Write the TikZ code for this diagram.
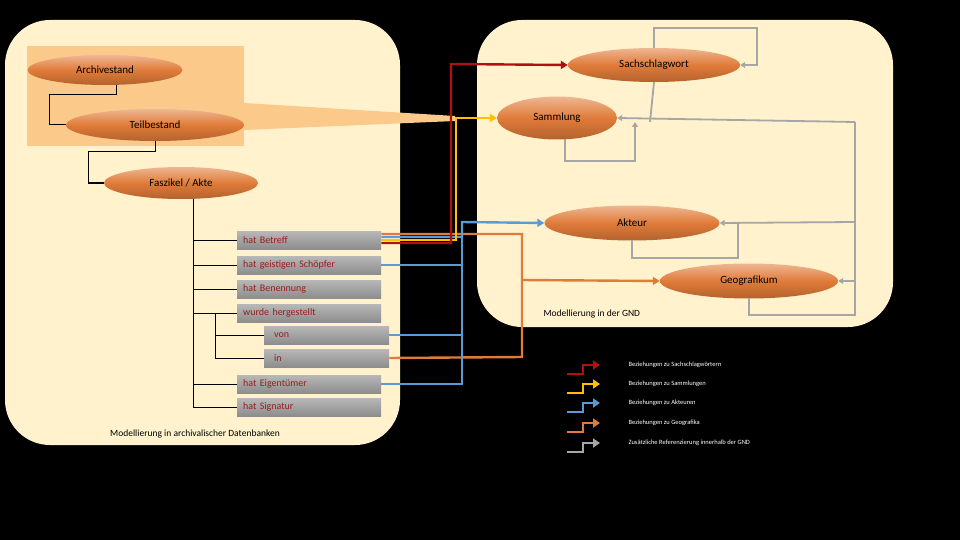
\documentclass[tikz,border=0pt]{standalone}
\usepackage{fontspec}
\setmainfont{Carlito}
\usetikzlibrary{shapes.geometric,arrows.meta}
\definecolor{panel}{HTML}{FFF2CC}
\definecolor{hl}{HTML}{FBC98A}
\definecolor{cred}{HTML}{B01010}
\definecolor{cyel}{HTML}{FFC000}
\definecolor{cblu}{HTML}{5B9BD5}
\definecolor{cora}{HTML}{E07B39}
\definecolor{cgry}{HTML}{A6A6A6}
\definecolor{btxt}{HTML}{9B1C1C}
\tikzset{
  ell/.style={ellipse,top color=#1!55!white,bottom color=#1!80!black,middle color=#1,draw=none,font=\fontsize{11}{12}\selectfont,inner sep=0},
  ell/.default={cora},
  box/.style={rectangle,top color=cgry!80!white,bottom color=cgry!85!black,minimum height=18,text width=#1,align=left,inner xsep=6,inner ysep=0,font=\fontsize{10}{11}\selectfont,text=btxt},
  tree/.style={black,line width=1},
  con/.style={line width=2.4},
  gcon/.style={cgry,line width=1.8},
  tip/.style={-{Triangle[length=7,width=8]}},
  gtip/.style={-{Triangle[length=5,width=6]}},
  leg/.style={font=\fontsize{6.5}{7}\selectfont,text=white,anchor=west}
}
\begin{document}
\begin{tikzpicture}[x=1pt,y=-1pt]
\fill[black] (0,0) rectangle (960,540);
\useasboundingbox (0,0) rectangle (960,540);
% panels
\fill[panel,rounded corners=45] (5,20) rectangle (400,445);
\fill[panel,rounded corners=45] (477,20) rectangle (893,327);
\fill[hl] (27,46) rectangle (244,146);
\fill[hl] (244,103) -- (455,116) -- (455,121) -- (244,130) -- cycle;
% left ellipses
\node[ell,minimum width=155,minimum height=30] (arch) at (105,70) {Archivestand};
\node[ell,minimum width=178,minimum height=32] (teil) at (155,125) {Teilbestand};
\node[ell,minimum width=154,minimum height=32] (fasz) at (181,183) {Faszikel / Akte};
% boxes
\node[box=132,minimum width=144,anchor=west] (b1) at (237,240) {hat Betreff};
\node[box=132,minimum width=144,anchor=west] (b2) at (237,265) {hat geistigen Schöpfer};
\node[box=132,minimum width=144,anchor=west] (b3) at (237,289) {hat Benennung};
\node[box=132,minimum width=144,anchor=west] (b4) at (237,313) {wurde hergestellt};
\node[box=105,minimum width=117,anchor=west,inner xsep=10] (b5) at (264,335) {von};
\node[box=105,minimum width=117,anchor=west,inner xsep=10] (b6) at (264,358) {in};
\node[box=132,minimum width=144,anchor=west] (b7) at (237,384) {hat Eigentümer};
\node[box=132,minimum width=144,anchor=west] (b8) at (237,407) {hat Signatur};
% tree lines
\draw[tree] (arch.south) ++(11,0) |- (49,95) |- (teil.west);
\draw[tree] (teil.south) |- (88,152) |- (fasz.west);
\draw[tree] (fasz.south) ++(12,0) -- (193,407) -- (b8.west);
\foreach \b in {b1,b2,b3,b4,b7} \draw[tree] (193,0 |- \b.west) -- (\b.west);
\draw[tree] (b4.south west) ++(-22,0) coordinate (t2) -- (t2 |- b6.west) -- (b6.west);
\draw[tree] (t2 |- b5.west) -- (b5.west);
\draw[tree] (t2) -- ++(0,-9);
% right ellipses
\node[ell,minimum width=172,minimum height=34] (sach) at (654,65) {Sachschlagwort};
\node[ell,minimum width=120,minimum height=43] (samm) at (557,118) {Sammlung};
\node[ell,minimum width=175,minimum height=35] (akt) at (632,223) {Akteur};
\node[ell,minimum width=178,minimum height=35] (geo) at (749,281) {Geografikum};
% gray references
\draw[gcon,gtip] (sach.north) |- (757,28) |- (sach.east);
\draw[gcon] (sach.south) -- (650,122);
\draw[gcon,gtip] (855,122) -- (samm.east);
\draw[gcon] (855,122) -- (855,298);
\draw[gcon,gtip] (565,139) |- (635,161) -- (635,122);
\draw[gcon,gtip] (855,222) -- (akt.east);
\draw[gcon] (632,240) |- (738,258) -- (738,222);
\draw[gcon,gtip] (855,281) -- (geo.east);
\draw[gcon] (749,298) |- (855,315) -- (855,298);
% coloured connectors
\draw[con,cora] ([yshift=6]b1.east) -| (522,357) -- (b6.east);
\draw[con,cora,tip] (522,280) -- (geo.west);
\draw[con,cblu,tip] ([yshift=3]b1.east) -| (462,222) -- (akt.west);
\draw[con,cblu] (b2.east) -- (462,0 |- b2.east);
\draw[con,cblu] (b5.east) -| (462,222);
\draw[con,cblu] (b7.east) -| (462,222);
\draw[con,cyel,tip] (b1.east) -| (456,118) -- (samm.west);
\draw[con,cred,tip] ([yshift=-3]b1.east) -| (451,64) -- (sach.west);
% labels
\node[font=\fontsize{9.5}{10}\selectfont,anchor=west] (lg) at (540,314) {Modellierung in der GND};
\node[font=\fontsize{9.5}{10}\selectfont] (la) at (195,434) {Modellierung in archivalischer Datenbanken};
% legend
\foreach \c/\y/\t/\n in {cred/365/Beziehungen zu Sachschlagwörtern/l1,cyel/384/Beziehungen zu Sammlungen/l2,cblu/403/Beziehungen zu Akteuren/l3,cora/423/Beziehungen zu Geografika/l4,cgry/443/Zusätzliche Referenzierung innerhalb der GND/l5}{
  \node[leg] (\n) at (625,\y) {\t};
  \coordinate (\n s) at (567,\y+9);
  \draw[\c,line width=2.4,-{Triangle[length=7,width=9]}] (\n s) -- ++(16,0) -- ++(0,-9) -- ++(17,0);
}
\end{tikzpicture}
\end{document}
